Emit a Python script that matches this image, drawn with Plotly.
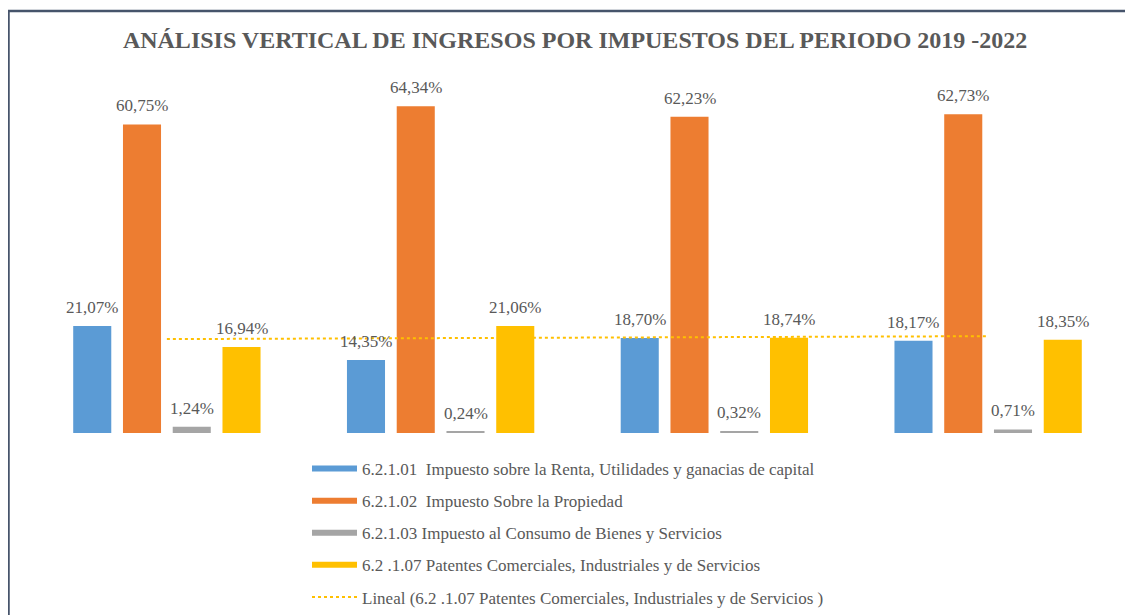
import numpy as np
import plotly.graph_objects as go

years = ['2019', '2020', '2021', '2022']
renta = [21.07, 14.35, 18.70, 18.17]
propiedad = [60.75, 64.34, 62.23, 62.73]
consumo = [1.24, 0.24, 0.32, 0.71]
patentes = [16.94, 21.06, 18.74, 18.35]

names = ['6.2.1.01  Impuesto sobre la Renta, Utilidades y ganacias de capital',
         '6.2.1.02  Impuesto Sobre la Propiedad',
         '6.2.1.03 Impuesto al Consumo de Bienes y Servicios',
         '6.2 .1.07 Patentes Comerciales, Industriales y de Servicios']
trend_name = 'Lineal (6.2 .1.07 Patentes Comerciales, Industriales y de Servicios )'
colors = ['#5B9BD5', '#ED7D31', '#A5A5A5', '#FFC000']
series = [renta, propiedad, consumo, patentes]

# linear trendline of the yellow series (same as Excel "Lineal")
xi = np.arange(1, len(years) + 1)
slope, icpt = np.polyfit(xi, patentes, 1)
trend = slope * xi + icpt

# page body has an 8px margin, so the figure is a bit smaller than the window
W, H = 1125, 607
ml, mr, mt, mb = 22, 8, 72, 182
pw, ph = W - ml - mr, H - mt - mb
bargap = 0.273

def px(x):
    return (x - ml) / pw

def py(y):
    return (H - mb - y) / ph

serif = 'Liberation Serif, Times New Roman, serif'

fig = go.Figure()
for vals, c in zip(series, colors):
    fig.add_trace(go.Bar(x=years, y=vals, marker=dict(color=c, line=dict(width=0)),
                         showlegend=False, hoverinfo='y'))

fig.add_trace(go.Scatter(x=years, y=trend, mode='lines', showlegend=False,
                         line=dict(color='#FFC000', width=2, dash='dot')))

# data labels, shifted to sit over each bar of the group
# (category index used for x: numeric-looking category names are read as indices)
slot = pw / len(years) * (1 - bargap) / len(series)
for i, vals in enumerate(series):
    for j, v in enumerate(vals):
        fig.add_annotation(x=j, y=v, text=f'{v:.2f}%'.replace('.', ','),
                           showarrow=False, yanchor='bottom', yshift=7,
                           xshift=(i - (len(series) - 1) / 2) * slot,
                           font=dict(family=serif, size=17, color='#595959'))

# legend entries drawn as thick lines, like the spreadsheet legend
for i, (n, c) in enumerate(zip(names, colors)):
    fig.add_trace(go.Scatter(x=[None], y=[None], mode='lines', name=n, legendgroup=str(i),
                             line=dict(color=c, width=6)))
fig.add_trace(go.Scatter(x=[None], y=[None], mode='lines', name=trend_name, legendgroup='t',
                         line=dict(color='#FFC000', width=2, dash='dot')))

fig.update_layout(
    width=W, height=H,
    margin=dict(l=ml, r=mr, t=mt, b=mb, autoexpand=False),
    paper_bgcolor='white', plot_bgcolor='white',
    barmode='group', bargap=bargap, bargroupgap=0.235,
    title=dict(text='<b>ANÁLISIS VERTICAL DE INGRESOS POR IMPUESTOS DEL PERIODO 2019 -2022</b>',
               x=px(574), xanchor='center', y=1 - 32 / H, yanchor='middle',
               font=dict(family=serif, size=24, color='#595959')),
    xaxis=dict(type='category', range=[-0.5, len(years) - 0.5], showticklabels=False,
               showline=False, showgrid=False, zeroline=False),
    yaxis=dict(range=[0, ph / 5.08], visible=False),
    legend=dict(x=px(299), xanchor='left', y=py(H), yanchor='bottom',
                font=dict(family=serif, size=17, color='#595959'),
                itemwidth=45, tracegroupgap=7, bgcolor='rgba(0,0,0,0)'),
    shapes=[
        dict(type='line', xref='paper', yref='paper', x0=px(0), x1=px(W), y0=py(3), y1=py(3),
             line=dict(color='#46546B', width=2.5)),
        dict(type='line', xref='paper', yref='paper', x0=px(0.5), x1=px(0.5), y0=py(2), y1=py(H),
             line=dict(color='#46546B', width=2.5)),
    ],
)

fig.write_html('out.html')
